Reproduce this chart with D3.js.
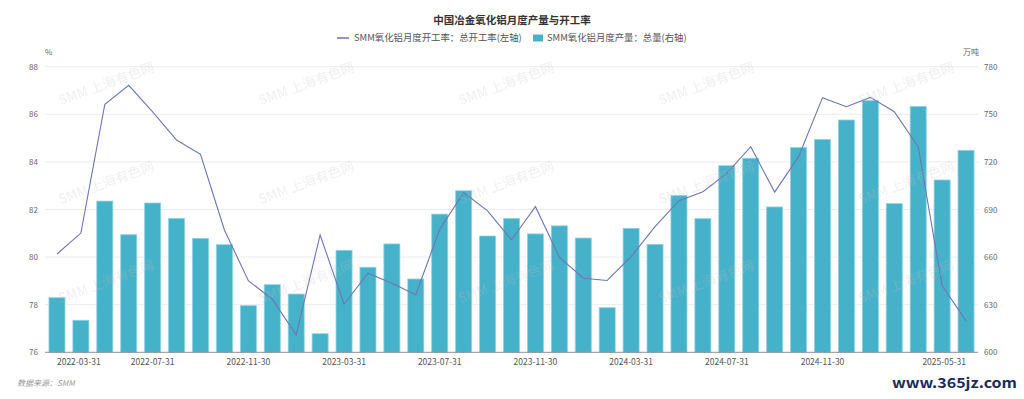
<!DOCTYPE html>
<html><head><meta charset="utf-8">
<script src="https://cdn.jsdelivr.net/npm/d3@7"></script>
<style>body{margin:0;background:#fff}svg{display:block}text{font-family:"Noto Sans CJK SC","Noto Sans",sans-serif}</style>
</head><body><svg id="c" width="1024" height="399"></svg>
<script>
const dates = ["2022-03-31","2022-04-30","2022-05-31","2022-06-30","2022-07-31","2022-08-31","2022-09-30","2022-10-31","2022-11-30","2022-12-31",
"2023-01-31","2023-02-28","2023-03-31","2023-04-30","2023-05-31","2023-06-30","2023-07-31","2023-08-31","2023-09-30","2023-10-31","2023-11-30","2023-12-31",
"2024-01-31","2024-02-29","2024-03-31","2024-04-30","2024-05-31","2024-06-30","2024-07-31","2024-08-31","2024-09-30","2024-10-31","2024-11-30","2024-12-31",
"2025-01-31","2025-02-28","2025-03-31","2025-04-30","2025-05-31"];
const output = [634.4,620.2,695.3,674.1,694.1,684.4,671.8,667.8,629.4,642.6,636.7,611.7,664.3,653.6,668.3,646.2,687.1,701.8,673.3,684.3,674.6,679.7,672.0,628.1,678.1,668.0,698.9,684.2,717.6,722.3,691.6,729.0,734.2,746.4,758.6,693.7,755.0,708.6,727.3];
const rate = [80.13,81.01,86.42,87.22,86.1,84.92,84.32,81.14,79.01,78.23,76.73,80.93,78.02,79.32,78.9,78.42,81.17,82.71,81.94,80.72,82.12,80.0,79.11,79.02,80.02,81.28,82.37,82.75,83.52,84.64,82.73,84.22,86.7,86.32,86.71,86.11,84.64,78.8,77.32];
const leftTicks = [76,78,80,82,84,86,88];
const rightTicks = [600,630,660,690,720,750,780];
const labelIdx = [0,4,8,12,16,20,24,28,32,38];
const title = "中国冶金氧化铝月度产量与开工率";
const lineName = "SMM氧化铝月度开工率：总开工率(左轴)";
const barName = "SMM氧化铝月度产量：总量(右轴)";

const svg = d3.select("#c");
const L = 45, R = 978, T = 66.7, B = 352.3;
const x = d3.scaleBand().domain(dates).range([L, R]).padding(0);
const yL = d3.scaleLinear().domain([76, 88]).range([B, T]);
const yR = d3.scaleLinear().domain([600, 780]).range([B, T]);
const bw = x.bandwidth();
const cx = d => x(d) + bw / 2;

svg.append("text").attr("x", 512).attr("y", 24).attr("text-anchor", "middle")
  .attr("font-size", 10.5).attr("font-weight", "bold").attr("fill", "#333").text(title);
const lg = svg.append("g").attr("font-size", 9.4).attr("fill", "#555");
lg.append("line").attr("x1", 337).attr("x2", 349).attr("y1", 38).attr("y2", 38).attr("stroke", "#6f75b3").attr("stroke-width", 1.5);
lg.append("text").attr("x", 354).attr("y", 41.3).text(lineName);
lg.append("rect").attr("x", 533).attr("y", 34.5).attr("width", 10).attr("height", 7).attr("fill", "#45b2c9");
lg.append("text").attr("x", 547).attr("y", 41.3).text(barName);

svg.append("g").selectAll("line").data(leftTicks.slice(1)).join("line")
  .attr("x1", L).attr("x2", R).attr("y1", d => yL(d)).attr("y2", d => yL(d))
  .attr("stroke", "#ececec").attr("stroke-width", 1);

svg.append("g").attr("font-size", 8).attr("fill", "#666").selectAll("text").data(leftTicks).join("text")
  .attr("x", 38).attr("y", d => yL(d) + 3).attr("text-anchor", "end").text(d => d);
svg.append("g").attr("font-size", 8).attr("fill", "#666").selectAll("text").data(rightTicks).join("text")
  .attr("x", 984).attr("y", d => yR(d) + 3).attr("text-anchor", "start").text(d => d);
svg.append("text").attr("x", 45).attr("y", 55).attr("font-size", 8).attr("fill", "#666").text("%");
svg.append("text").attr("x", 963).attr("y", 55).attr("font-size", 8).attr("fill", "#666").text("万吨");

svg.append("g").selectAll("rect").data(dates).join("rect")
  .attr("x", d => x(d) + bw * 0.165).attr("width", bw * 0.67)
  .attr("y", (d, i) => yR(output[i])).attr("height", (d, i) => B - yR(output[i]))
  .attr("fill", "#45b2c9").attr("stroke", "#8fd2e2").attr("stroke-width", 0.8);

svg.append("line").attr("x1", L).attr("x2", R).attr("y1", B).attr("y2", B).attr("stroke", "#8c939c").attr("stroke-width", 1);

svg.append("g").attr("font-size", 8.5).attr("fill", "#555").selectAll("text").data(labelIdx).join("text")
  .attr("x", i => cx(dates[i])).attr("y", 365)
  .attr("text-anchor", i => i === 0 ? "start" : (i === dates.length - 1 ? "end" : "middle"))
  .text(i => dates[i]);

const line = d3.line().x((d, i) => cx(dates[i])).y(d => yL(d));
svg.append("path").datum(rate).attr("d", line).attr("fill", "none").attr("stroke", "#6f75b3").attr("stroke-width", 1.1);

const wm = svg.append("g").attr("font-size", 13.5).attr("fill", "rgb(195,195,195)").attr("opacity", 0.26);
for (let j = 0; j < 3; j++) for (let i = 0; i < 5; i++) {
  const px = 108 + 200 * i, py = 83 + 99 * j;
  wm.append("text").attr("x", 0).attr("y", 0).attr("text-anchor", "middle")
    .attr("transform", `translate(${px},${py + 5}) rotate(-20)`).text("SMM 上海有色网");
}

svg.append("text").attr("x", 17).attr("y", 386).attr("font-size", 8).attr("font-style", "italic").attr("fill", "#999").text("数据来源：SMM");
svg.append("text").attr("x", 892).attr("y", 388).attr("font-size", 14).attr("font-weight", "bold")
  .attr("font-family", "DejaVu Serif, serif").attr("fill", "#1b2a5c").attr("textLength", 125).attr("lengthAdjust", "spacingAndGlyphs").text("www.365jz.com");
</script></body></html>
